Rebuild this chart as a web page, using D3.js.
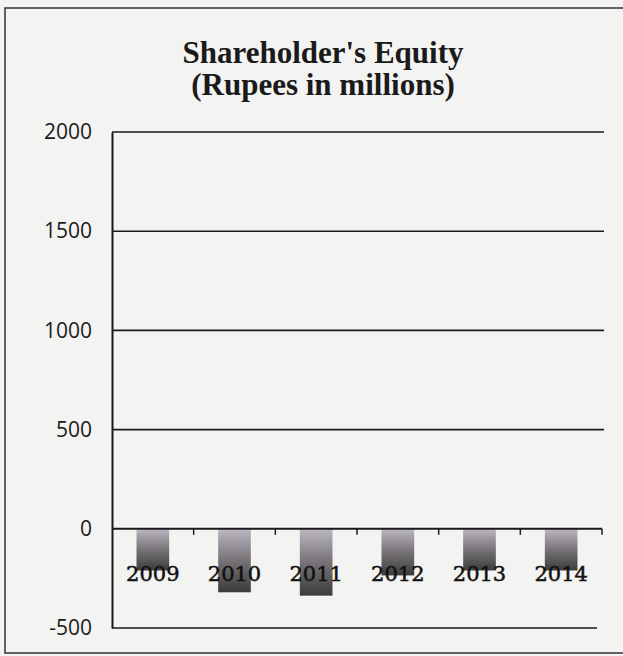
<!DOCTYPE html>
<html>
<head>
<meta charset="utf-8">
<script src="https://cdn.jsdelivr.net/npm/d3@7/dist/d3.min.js"></script>
<style>
  body { margin: 0; background: #f3f3f1; }
</style>
</head>
<body>
<div id="chart"></div>
<script>
// data
var years   = ['2009', '2010', '2011', '2012', '2013', '2014'];
var equity  = [-210, -320, -337, -235, -210, -210];
var y_ticks = [-500, 0, 500, 1000, 1500, 2000];
var title_lines = ["Shareholder's Equity", '(Rupees in millions)'];

var chart_width  = 623;
var chart_height = 656;
var plot_left    = 112;
var plot_right   = 602;
var plot_top     = 132;
var plot_bottom  = 628;

var svg = d3.select('#chart')
	.append('svg')
	.attr('width', chart_width)
	.attr('height', chart_height);

svg.append('rect')
	.attr('width', chart_width)
	.attr('height', chart_height)
	.attr('fill', '#f3f3f1');

// outer frame
svg.append('rect')
	.attr('x', 5)
	.attr('y', 8)
	.attr('width', 630)
	.attr('height', 645)
	.attr('fill', 'none')
	.attr('stroke', '#333')
	.attr('stroke-width', 1.5);

// bar gradient
var grad = svg.append('defs')
	.append('linearGradient')
	.attr('id', 'bar_fill')
	.attr('x1', 0).attr('y1', 0)
	.attr('x2', 0).attr('y2', 1);
grad.append('stop').attr('offset', '0%').attr('stop-color', '#bdb8c2');
grad.append('stop').attr('offset', '45%').attr('stop-color', '#7d797e');
grad.append('stop').attr('offset', '100%').attr('stop-color', '#3c3c3c');

// scales
var x_scale = d3.scaleBand()
	.domain(years)
	.range([plot_left, plot_right])
	.paddingInner(0.6)
	.paddingOuter(0.3);

var y_scale = d3.scaleLinear()
	.domain([-500, 2000])
	.range([plot_bottom, plot_top]);

// gridlines
svg.selectAll('line.grid')
	.data(y_ticks.filter(function(d){ return d !== 0; }))
	.enter()
	.append('line')
	.attr('class', 'grid')
	.attr('x1', plot_left)
	.attr('x2', function(d){ return d === -500 ? 597 : 604; })
	.attr('y1', function(d){ return y_scale(d); })
	.attr('y2', function(d){ return y_scale(d); })
	.attr('stroke', '#1a1a1a')
	.attr('stroke-width', 1.6);

// bars
svg.selectAll('rect.bar')
	.data(equity)
	.enter()
	.append('rect')
	.attr('class', 'bar')
	.attr('x', function(d, i){ return x_scale(years[i]); })
	.attr('y', function(d){ return y_scale(Math.max(0, d)); })
	.attr('width', x_scale.bandwidth())
	.attr('height', function(d){ return Math.abs(y_scale(d) - y_scale(0)); })
	.attr('fill', 'url(#bar_fill)');

// y axis (plain hyphen for negatives, like the scan)
var y_axis = d3.axisLeft(y_scale)
	.tickValues(y_ticks)
	.tickFormat(function(d){ return String(d); })
	.tickSize(0)
	.tickPadding(20);

var gy = svg.append('g')
	.attr('transform', 'translate(' + plot_left + ',0)')
	.call(y_axis);
gy.select('.domain').attr('stroke', '#1a1a1a').attr('stroke-width', 2);
gy.selectAll('text')
	.attr('font-family', 'Open Sans, sans-serif')
	.attr('font-size', 21)
	.attr('fill', '#1a1a1a');

// x axis at zero with tick marks between categories
var x_bounds = d3.range(years.length + 1).map(function(i){
	return plot_left + i * (plot_right - plot_left) / years.length;
});

svg.append('line')
	.attr('x1', plot_left)
	.attr('x2', plot_right)
	.attr('y1', y_scale(0))
	.attr('y2', y_scale(0))
	.attr('stroke', '#1a1a1a')
	.attr('stroke-width', 2);

svg.selectAll('line.xtick')
	.data(x_bounds.slice(1))
	.enter()
	.append('line')
	.attr('class', 'xtick')
	.attr('x1', function(d){ return d; })
	.attr('x2', function(d){ return d; })
	.attr('y1', y_scale(0))
	.attr('y2', y_scale(0) + 6)
	.attr('stroke', '#1a1a1a')
	.attr('stroke-width', 1.5);

// category labels
svg.selectAll('text.year')
	.data(years)
	.enter()
	.append('text')
	.attr('class', 'year')
	.text(function(d){ return d; })
	.attr('x', function(d){ return x_scale(d) + x_scale.bandwidth() / 2; })
	.attr('y', y_scale(0) + 52)
	.attr('text-anchor', 'middle')
	.attr('font-family', 'DejaVu Serif, serif')
	.attr('font-size', 21)
	.attr('stroke', '#111')
	.attr('stroke-width', 0.5)
	.attr('fill', '#111');

// title
svg.selectAll('text.title')
	.data(title_lines)
	.enter()
	.append('text')
	.attr('class', 'title')
	.text(function(d){ return d; })
	.attr('x', 323)
	.attr('y', function(d, i){ return 63 + i * 32; })
	.attr('text-anchor', 'middle')
	.attr('font-family', 'Liberation Serif, serif')
	.attr('font-weight', 'bold')
	.attr('font-size', 31)
	.attr('fill', '#1a1a1a');
</script>
</body>
</html>
